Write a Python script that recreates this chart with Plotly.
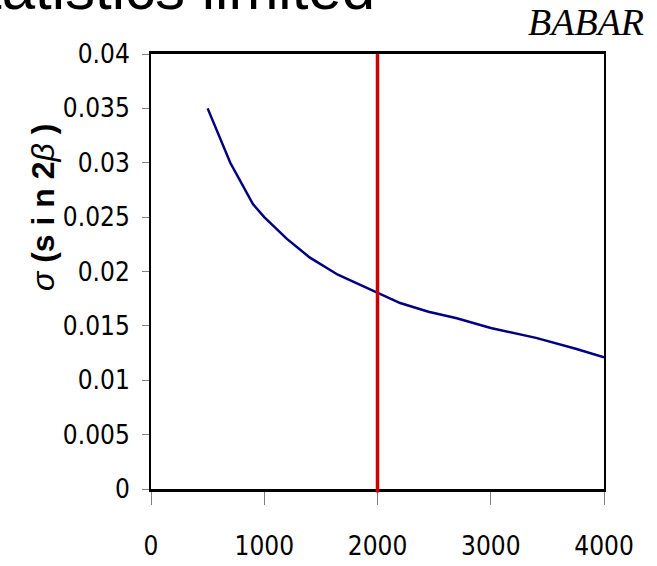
import plotly.graph_objects as go

# Data
events = [500, 700, 900, 1000, 1200, 1400, 1650, 2000, 2200, 2450, 2700, 3000, 3400, 3750, 4000]
sigma = [0.0350, 0.0300, 0.0262, 0.0250, 0.0230, 0.0213, 0.0197, 0.0180, 0.0171, 0.0163,
         0.0157, 0.0148, 0.0139, 0.0129, 0.0121]
marker_x = 2000
x_ticks = [0, 1000, 2000, 3000, 4000]
y_ticks = [0, 0.005, 0.01, 0.015, 0.02, 0.025, 0.03, 0.035, 0.04]
y_tick_text = ["0", "0.005", "0.01", "0.015", "0.02", "0.025", "0.03", "0.035", "0.04"]

W, H = 657, 566
L, R, T, B = 151, 53, 54, 77
PW, PH = W - L - R, H - T - B

def px(xp):
    return (xp - L) / PW

def py(yp):
    return (H - B - yp) / PH

narrow = "Liberation Sans Narrow, Arial Narrow, DejaVu Sans Condensed, sans-serif"

fig = go.Figure()
fig.add_trace(go.Scatter(x=events, y=sigma, mode="lines",
                         line=dict(color="#000080", width=2.5), showlegend=False,
                         hoverinfo="skip"))

fig.add_shape(type="line", xref="x", yref="paper", x0=marker_x, x1=marker_x,
              y0=-0.008, y1=1, line=dict(color="#cc0000", width=3.5), layer="above")

fig.update_layout(
    width=W, height=H, autosize=False,
    margin=dict(l=L, r=R, t=T, b=B, pad=0, autoexpand=False),
    paper_bgcolor="white", plot_bgcolor="white",
    showlegend=False,
    xaxis=dict(range=[0, 4000], tickvals=x_ticks, ticktext=[str(v) for v in x_ticks],
               showgrid=False, zeroline=False, showline=True, linecolor="black",
               linewidth=2.5, mirror=True, ticks="outside", ticklen=13, tickwidth=1,
               tickcolor="#808080", ticklabelstandoff=19, automargin=False,
               tickfont=dict(family=narrow, size=26, color="black")),
    yaxis=dict(range=[0, 0.04], tickvals=y_ticks, ticktext=y_tick_text,
               showgrid=False, zeroline=False, showline=True, linecolor="black",
               linewidth=2, mirror=True, ticks="outside", ticklen=7, tickwidth=1,
               tickcolor="#808080", ticklabelstandoff=7, automargin=False,
               tickfont=dict(family=narrow, size=26, color="black")),
    annotations=[
        dict(text="Statistics limited", xref="paper", yref="paper",
             x=px(-57), y=py(24), xanchor="left", yanchor="bottom", showarrow=False,
             font=dict(family="Liberation Sans, Arial, sans-serif", size=60, color="black")),
        dict(text="<i>BABAR</i>", xref="paper", yref="paper",
             x=px(646), y=py(45), xanchor="right", yanchor="bottom", showarrow=False,
             font=dict(family="Liberation Serif, Times New Roman, serif", size=38, color="black")),
        dict(text="<i>σ</i> <b>(s i n 2</b><i>β</i> <b>)</b>", xref="paper", yref="paper",
             x=px(43), y=py(208), xanchor="center", yanchor="middle", textangle=-90,
             showarrow=False,
             font=dict(family="Liberation Sans, Arial, sans-serif", size=32, color="black")),
    ],
)

fig.write_html("out.html", config={"displayModeBar": False},
               post_script="document.body.style.margin='0px';")
